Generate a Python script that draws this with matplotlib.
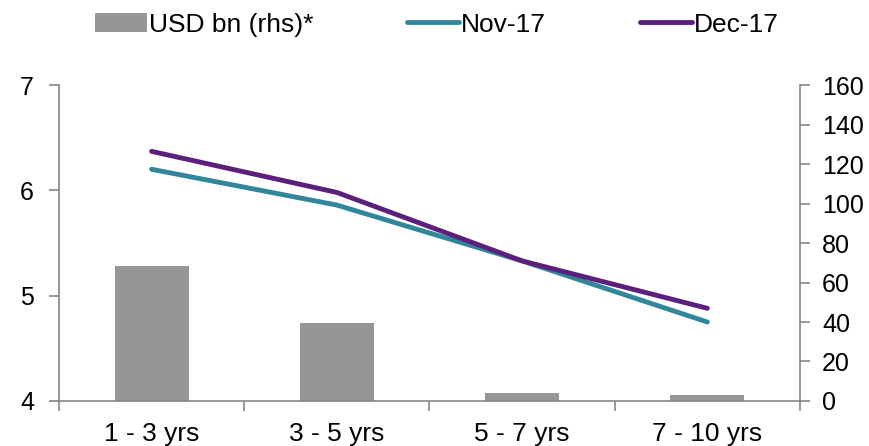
import numpy as np
import matplotlib
matplotlib.use("Agg")
import matplotlib.pyplot as plt
from matplotlib.ticker import FixedLocator

plt.rcParams['font.family'] = ['Liberation Sans', 'DejaVu Sans']

# maturity buckets
buckets = ["1 - 3 yrs", "3 - 5 yrs", "5 - 7 yrs", "7 - 10 yrs"]
usd_bn = [68.6, 39.6, 3.9, 2.9]
nov17 = [6.20, 5.86, 5.33, 4.75]
dec17 = [6.37, 5.98, 5.33, 4.88]

grey = "#969696"
teal = "#31869B"
purple = "#5C1F7B"
spine = "#868686"

fig = plt.figure(figsize=(8.7, 4.46), dpi=100)
ax = fig.add_axes([0.0678, 0.1009, 0.8517, 0.7085])
ax2 = ax.twinx()

x = np.arange(len(buckets))

# bars go on the right axis, lines on the left one drawn above them
ax.set_zorder(ax2.get_zorder() + 1)
ax.patch.set_visible(False)

bars = ax2.bar(x, usd_bn, width=0.4, color=grey, label="USD bn (rhs)*")
l1, = ax.plot(x, nov17, color=teal, lw=3.5, solid_capstyle="round", label="Nov-17")
l2, = ax.plot(x, dec17, color=purple, lw=3.5, solid_capstyle="round", label="Dec-17")

ax.set_xlim(-0.5, 3.5)
ax.set_ylim(4, 7)
ax.set_yticks([4, 5, 6, 7])
ax2.set_ylim(0, 160)
ax2.set_yticks(range(0, 161, 20))

ax.set_xticks(x)
ax.set_xticklabels(buckets)
ax.xaxis.set_minor_locator(FixedLocator([-0.5, 0.5, 1.5, 2.5, 3.5]))
ax.tick_params(axis="x", which="major", length=0, pad=15, labelsize=19)
ax.tick_params(axis="x", which="minor", length=7, width=1.2, color=spine, direction="out")
ax.tick_params(axis="y", length=7, width=1.2, color=spine, pad=11, labelsize=18)
ax2.tick_params(axis="y", length=7, width=1.2, color=spine, pad=9, labelsize=18)

for a in (ax, ax2):
    a.spines["top"].set_visible(False)
    for s in ("left", "right", "bottom"):
        a.spines[s].set_color(spine)
        a.spines[s].set_linewidth(1.2)
ax.spines["right"].set_visible(False)
ax2.spines["left"].set_visible(False)
ax2.spines["bottom"].set_visible(False)

fig.legend([bars, l1, l2], ["USD bn (rhs)*", "Nov-17", "Dec-17"],
           loc="upper center", bbox_to_anchor=(0.502, 1.025), ncol=3, frameon=False,
           fontsize=19, handlelength=1.97, handletextpad=0.08, columnspacing=3.55,
           handleheight=0.7)

fig.savefig("out.png", dpi=100)
